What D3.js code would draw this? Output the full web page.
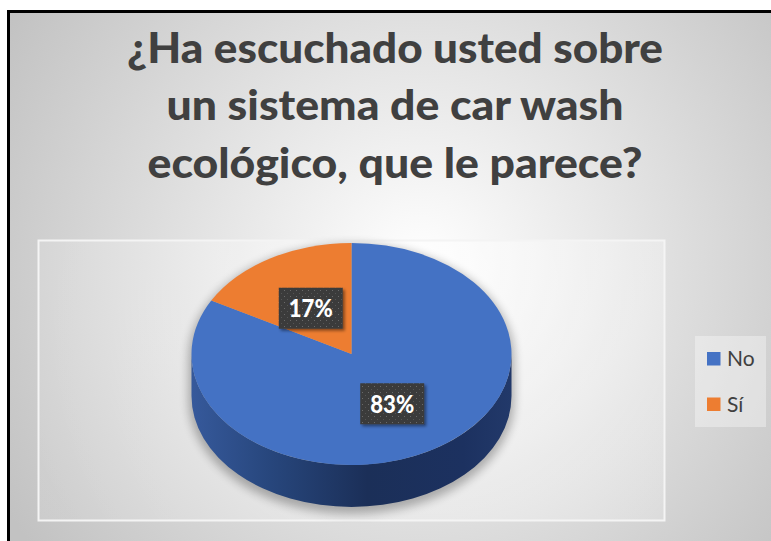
<!DOCTYPE html>
<html>
<head>
<meta charset="utf-8">
<script src="https://cdn.jsdelivr.net/npm/d3@7"></script>
<style>
  html, body { margin: 0; padding: 0; background: #ffffff; overflow: hidden; }
  svg { display: block; }
</style>
</head>
<body>
<svg id="chart" width="771" height="541"></svg>
<script>
// ---- data ----
const categories = ["No", "Sí"];
const values = [83, 17];
const colors = ["#4472C4", "#ED7D31"];
const titleLines = ["¿Ha escuchado usted sobre", "un sistema de car wash", "ecológico, que le parece?"];

// ---- layout ----
const W = 771, H = 541;
const svg = d3.select("#chart");
const defs = svg.append("defs");

// background radial gradient
const bg = defs.append("radialGradient").attr("id", "bgGrad")
  .attr("gradientUnits", "userSpaceOnUse")
  .attr("cx", 420).attr("cy", 265).attr("r", 480);
bg.append("stop").attr("offset", "0%").attr("stop-color", "#ffffff");
bg.append("stop").attr("offset", "100%").attr("stop-color", "#c2c2c2");

const pg = defs.append("radialGradient").attr("id", "plotGrad")
  .attr("gradientUnits", "userSpaceOnUse")
  .attr("cx", 430).attr("cy", 300).attr("r", 420);
pg.append("stop").attr("offset", "0%").attr("stop-color", "#ffffff").attr("stop-opacity", 0.5);
pg.append("stop").attr("offset", "100%").attr("stop-color", "#ffffff").attr("stop-opacity", 0.12);

// side gradient
const sg = defs.append("linearGradient").attr("id", "sideGrad")
  .attr("x1", "0%").attr("x2", "100%").attr("y1", "0%").attr("y2", "0%");
[["0%", "#36599b"], ["25%", "#27467c"], ["55%", "#1b2f58"], ["85%", "#1c3160"], ["100%", "#22396a"]]
  .forEach(([o, c]) => sg.append("stop").attr("offset", o).attr("stop-color", c));

// blur filters
const sh = defs.append("filter").attr("id", "pieShadow")
  .attr("x", "-20%").attr("y", "-20%").attr("width", "140%").attr("height", "140%");
sh.append("feGaussianBlur").attr("stdDeviation", 5);

const ls = defs.append("filter").attr("id", "lblShadow")
  .attr("x", "-30%").attr("y", "-30%").attr("width", "160%").attr("height", "160%");
ls.append("feDropShadow").attr("dx", 2).attr("dy", 2).attr("stdDeviation", 1.8)
  .attr("flood-color", "#000").attr("flood-opacity", 0.45);

// dotted pattern for label boxes
const pat = defs.append("pattern").attr("id", "dots")
  .attr("patternUnits", "userSpaceOnUse").attr("width", 6).attr("height", 6);
pat.append("rect").attr("width", 6).attr("height", 6).attr("fill", "#3b3b3b");
pat.append("rect").attr("x", 2).attr("y", 2).attr("width", 1).attr("height", 1).attr("fill", "#6a6a6a");
pat.append("rect").attr("x", 5).attr("y", 5).attr("width", 1).attr("height", 1).attr("fill", "#555555");

// frame
svg.append("rect").attr("x", 8.5).attr("y", 11.5).attr("width", 800).attr("height", 560)
  .attr("fill", "url(#bgGrad)").attr("stroke", "#000").attr("stroke-width", 3);

// title
const titleG = svg.append("g");
const titleBase = [63, 120, 178];
const titleWidths = [536, 457, 495];
titleLines.forEach((t, i) => {
  titleG.append("text")
    .attr("x", 395).attr("y", titleBase[i])
    .attr("text-anchor", "middle")
    .attr("font-family", "Lato, 'Open Sans', sans-serif")
    .attr("font-weight", 900)
    .attr("font-size", 42)
    .attr("fill", "#404040")
    .attr("textLength", titleWidths[i])
    .attr("lengthAdjust", "spacingAndGlyphs")
    .text(t);
});

// plot area
svg.append("rect").attr("x", 38.5).attr("y", 240.5).attr("width", 626).attr("height", 280)
  .attr("fill", "url(#plotGrad)").attr("stroke", "#f4f4f4").attr("stroke-width", 2);

// pie geometry
const cx = 351.5, cy = 354, rx = 160, ry = 111, depth = 42;
const k = ry / rx;
const total = d3.sum(values);
const pie = d3.pie().sort(null).value(d => d)(values);
const arc = d3.arc().innerRadius(0).outerRadius(rx);
const pct = d3.format(".0%");

// shadow silhouette
const silhouette = `M${cx - rx},${cy} A${rx},${ry} 0 0 1 ${cx + rx},${cy} L${cx + rx},${cy + depth} A${rx},${ry} 0 0 1 ${cx - rx},${cy + depth} Z`;
svg.append("path").attr("d", silhouette)
  .attr("transform", "translate(0,4) ")
  .attr("fill", "#000").attr("opacity", 0.28)
  .attr("filter", "url(#pieShadow)")
  .attr("stroke", "#000").attr("stroke-width", 6);

// side (front half)
const sideG = svg.append("g");
pie.forEach((p, i) => {
  const a0 = Math.max(p.startAngle, Math.PI / 2);
  const a1 = Math.min(p.endAngle, 3 * Math.PI / 2);
  if (a1 <= a0) return;
  const px = a => cx + rx * Math.sin(a);
  const py = a => cy - ry * Math.cos(a);
  const d = `M${px(a0)},${py(a0)} A${rx},${ry} 0 0 1 ${px(a1)},${py(a1)} L${px(a1)},${py(a1) + depth} A${rx},${ry} 0 0 0 ${px(a0)},${py(a0) + depth} Z`;
  sideG.append("path").attr("d", d)
    .attr("fill", i === 0 ? "url(#sideGrad)" : d3.color(colors[i]).darker(1.2));
});

// top face
const topG = svg.append("g").attr("transform", `translate(${cx},${cy}) scale(1,${k})`);
topG.selectAll("path").data(pie).join("path")
  .attr("d", arc)
  .attr("fill", (d, i) => colors[i]);

// data labels
const lblG = svg.append("g");
const f = 0.5;
pie.forEach((p, i) => {
  const a = (p.startAngle + p.endAngle) / 2;
  const x = cx + rx * f * Math.sin(a);
  const y = cy - ry * f * Math.cos(a) + 2;
  const bw = 64, bh = 41;
  lblG.append("rect")
    .attr("x", x - bw / 2).attr("y", y - bh / 2)
    .attr("width", bw).attr("height", bh)
    .attr("fill", "url(#dots)")
    .attr("filter", "url(#lblShadow)");
  lblG.append("text")
    .attr("x", x).attr("y", y + 9)
    .attr("text-anchor", "middle")
    .attr("font-family", "Lato, 'Open Sans', sans-serif")
    .attr("font-weight", 900)
    .attr("font-size", 24.5)
    .attr("fill", "#ffffff")
    .attr("textLength", 44)
    .attr("lengthAdjust", "spacingAndGlyphs")
    .text(pct(values[i] / total));
});

// legend
const legG = svg.append("g");
legG.append("rect").attr("x", 695).attr("y", 336).attr("width", 71).attr("height", 91)
  .attr("fill", "#ffffff").attr("opacity", 0.35);
categories.forEach((c, i) => {
  const y0 = 352 + i * 45.5;
  legG.append("rect").attr("x", 707).attr("y", y0).attr("width", 13.5).attr("height", 13.5)
    .attr("fill", colors[i]);
  legG.append("text")
    .attr("x", 727).attr("y", y0 + 14)
    .attr("font-family", "Lato, 'Open Sans', sans-serif")
    .attr("font-size", 21)
    .attr("fill", "#404040")
    .text(c);
});
</script>
</body>
</html>
